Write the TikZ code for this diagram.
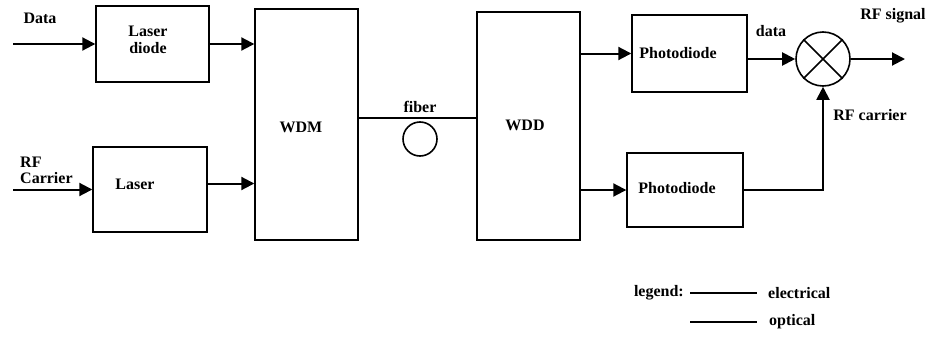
\documentclass[tikz,border=0pt]{standalone}
\usepackage{fontspec}
\setmainfont{Liberation Serif}
\usetikzlibrary{arrows.meta,calc}
\begin{document}
\begin{tikzpicture}[x=1pt,y=-1pt,
  blk/.style={draw,line width=1.4pt,rectangle,inner sep=0pt},
  lbl/.style={inner sep=0pt,align=center,font=\fontsize{16}{17}\selectfont\bfseries},
  conn/.style={line width=2pt},
  arr/.style={conn,-{Triangle[length=13pt,width=13pt]}}]
\useasboundingbox (0,0) rectangle (934,340);
% blocks
\node[blk,minimum width=113pt,minimum height=76pt] (LD) at (152.5,44) {};
\node[blk,minimum width=114pt,minimum height=85pt] (LS) at (150,189.5) {};
\node[blk,minimum width=103pt,minimum height=231pt] (WDM) at (306.5,124.5) {};
\node[blk,minimum width=103pt,minimum height=228pt] (WDD) at (528.5,126) {};
\node[blk,minimum width=115pt,minimum height=77pt] (PD1) at (689.5,53.5) {};
\node[blk,minimum width=116pt,minimum height=74pt] (PD2) at (685,190) {};
\node[draw,circle,line width=1.6pt,minimum size=54pt,inner sep=0pt] (MX) at (823,59) {};
\node[draw,circle,line width=1.6pt,minimum size=34pt,inner sep=0pt] (loop) at (420,139) {};
\draw[line width=1.6pt] (MX.north west) -- (MX.south east) (MX.north east) -- (MX.south west);
% block texts
\node[lbl] (tLD) at (148,40) {Laser\\diode};
\node[lbl] (tLS) at (135,184) {Laser};
\node[lbl] (tWDM) at (301,127) {WDM};
\node[lbl] (tWDD) at (525,125) {WDD};
\node[lbl] (tPD1) at (678,53) {Photodiode};
\node[lbl] (tPD2) at (677,188) {Photodiode};
% coordinates
\coordinate (din) at (13,44);
\coordinate (rfin) at (13,189.5);
\coordinate (fib) at (420,118);
\coordinate (out) at (905,59);
% connectors
\draw[arr] (din) -- (LD.west);
\draw[arr] (rfin) -- (LS.west);
\draw[arr] (LD.east) -- (LD.east -| WDM.west);
\draw[arr] ([yshift=6pt]LS.east) -- ([yshift=6pt]LS.east -| WDM.west);
\draw[conn] (WDM.east |- fib) -- (WDD.west |- fib);
\draw[arr] (WDD.east |- PD1.west) -- (PD1.west);
\draw[arr] (WDD.east |- PD2.west) -- (PD2.west);
\draw[arr] (PD1.east |- MX.west) -- (MX.west);
\draw[arr] (PD2.east) -| (MX.south);
\draw[arr] (MX.east) -- (out);
% labels
\node[lbl] (tdata) at (40,18) {Data};
\node[lbl,align=left,anchor=west,font=\fontsize{16}{16}\selectfont\bfseries] (trf) at (20,170) {RF\\Carrier};
\node[lbl] (tfib) at (420,107) {fiber};
\node[lbl] (tdat2) at (771,31) {data};
\node[lbl] (tsig) at (893,16) {RF signal};
\node[lbl] (tcar) at (870,115) {RF carrier};
% legend
\node[lbl,anchor=east] (tleg) at (684,293) {legend:};
\coordinate (l1a) at (690,293); \coordinate (l1b) at (757,293);
\coordinate (l2a) at (690,322); \coordinate (l2b) at (757,322);
\draw[conn] (l1a) -- (l1b);
\draw[conn] (l2a) -- (l2b);
\node[lbl,anchor=west] (tel) at (768,293) {electrical};
\node[lbl,anchor=west] (top) at (769,322) {optical};
\end{tikzpicture}
\end{document}
